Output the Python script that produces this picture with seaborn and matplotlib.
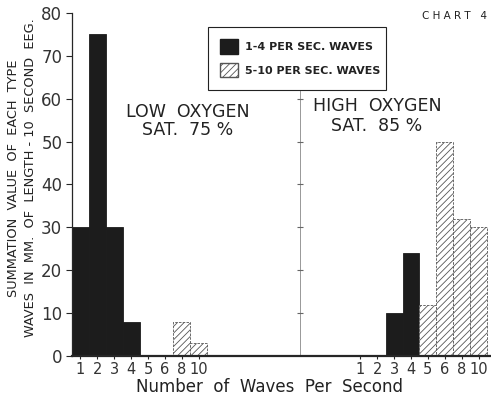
import numpy as np
import pandas as pd
import matplotlib
matplotlib.use("Agg")
import matplotlib.pyplot as plt
from matplotlib.patches import Patch
import seaborn as sns

# wave categories (per second) and the two oxygen conditions
wave_labels = ["1", "2", "3", "4", "5", "6", "8", "10"]
wave_type = ["1-4 PER SEC. WAVES"] * 4 + ["5-10 PER SEC. WAVES"] * 4
low_oxygen = [30, 75, 30, 8, 0, 0, 8, 3]
high_oxygen = [0, 0, 10, 24, 12, 50, 32, 30]

# x positions of the two groups along one shared axis
low_pos = list(range(8))
high_offset = 16.57
high_pos = [high_offset + i for i in range(8)]

df = pd.DataFrame({
    "pos": low_pos + high_pos,
    "value": low_oxygen + high_oxygen,
    "type": wave_type + wave_type,
})

sns.set_style("ticks")
plt.rcParams["font.family"] = ["DejaVu Sans"]
plt.rcParams["hatch.color"] = "#555555"
plt.rcParams["hatch.linewidth"] = 0.6

fig = plt.figure(figsize=(4.91, 4.01), dpi=100)
ax = fig.add_axes([72 / 491, 1 - 356 / 401, 418 / 491, 343 / 401])

sns.barplot(data=df, x="pos", y="value", hue="type", native_scale=True,
            dodge=False, width=1.0, palette=["#1c1c1c", "white"],
            edgecolor="#1c1c1c", linewidth=0.6, legend=False, ax=ax)

# hatch the 5-10 per sec. bars
for bar in ax.containers[1]:
    bar.set_hatch("/////")
    bar.set_edgecolor("#555555")
    bar.set_linestyle((0, (3, 1.5)))

ax.set_xlim(-0.5, 24.25)
ax.set_ylim(0, 80)
ax.set_yticks(range(0, 81, 10))
ax.set_yticklabels([str(v) for v in range(0, 81, 10)], fontsize=12, color="#333333")
ax.set_xticks(low_pos + high_pos)
ax.set_xticklabels(wave_labels + wave_labels, fontsize=10.5, color="#333333")
ax.tick_params(axis="x", length=2, pad=2)
ax.tick_params(axis="y", length=4, width=0.8, pad=3)
ax.set_xlabel("")
ax.set_ylabel("")
sns.despine(ax=ax)
ax.spines["left"].set_linewidth(0.9)
ax.spines["bottom"].set_linewidth(1.6)

# divider between the two conditions
div_x = 13.0
ax.plot([div_x, div_x], [0, 62], color="#888888", lw=0.6)
ax.plot([div_x] * 6, [10, 20, 30, 40, 50, 60], ls="none", marker="_",
        ms=4, color="#666666", mew=0.8)

handles = [Patch(facecolor="#1c1c1c", edgecolor="#1c1c1c"),
           Patch(facecolor="white", edgecolor="#555555", hatch="/////")]
leg = ax.legend(handles, ["1-4 PER SEC. WAVES", "5-10 PER SEC. WAVES"],
                loc="upper left", bbox_to_anchor=(0.325, 0.776, 0.426, 0.183),
                mode="expand", fancybox=False, edgecolor="#222222",
                prop={"size": 8, "weight": "bold"}, handlelength=1.6,
                handleheight=1.6, handletextpad=0.6, labelspacing=0.85,
                borderpad=1.1, borderaxespad=0, framealpha=1)
leg.get_frame().set_linewidth(0.8)
for t in leg.get_texts():
    t.set_color("#222222")

ax.text(188 / 491, 1 - 121 / 401, "LOW  OXYGEN\nSAT.  75 %", transform=fig.transFigure,
        ha="center", va="center", fontsize=12.5, color="#222222", linespacing=1.05)
ax.text(377 / 491, 1 - 116 / 401, "HIGH  OXYGEN\nSAT.  85 %", transform=fig.transFigure,
        ha="center", va="center", fontsize=12.5, color="#222222", linespacing=1.1)

fig.text(455 / 491, 1 - 16 / 401, "C H A R T   4", ha="center", va="center",
         fontsize=7.5, color="#222222")
fig.text(269 / 491, 1 - 387 / 401, "Number  of  Waves  Per  Second", ha="center",
         va="center", fontsize=12, color="#222222")
fig.text(22 / 491, 1 - 178 / 401,
         "SUMMATION  VALUE  OF  EACH  TYPE\nWAVES  IN  MM.  OF  LENGTH - 10  SECOND  EEG.",
         rotation=90, ha="center", va="center", fontsize=9.3, color="#222222",
         linespacing=1.35)

fig.savefig("out.png", dpi=100)
